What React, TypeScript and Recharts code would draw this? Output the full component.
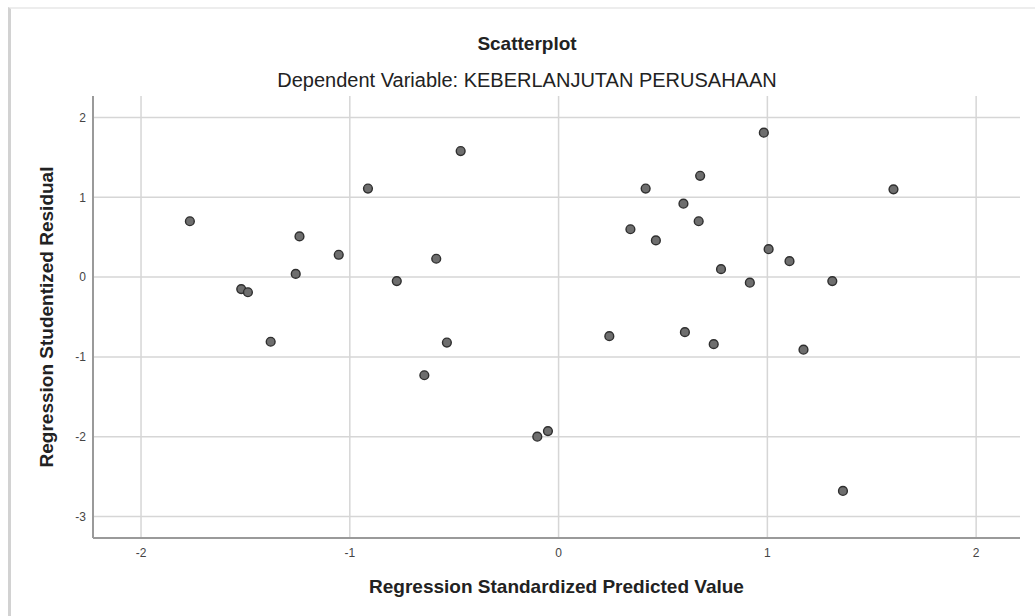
import { ScatterChart, Scatter, XAxis, YAxis, CartesianGrid } from "recharts";

// regression standardized predicted value (x) and studentized residual (y)
const predictedValues = [
  -1.766, -0.469, -0.913, -1.241, -1.053, -0.586, -1.259, -0.775, -1.52, -1.488,
  0.983, 0.678, 0.417, 1.604, 0.598, 0.671, 0.344, 0.466, 1.006, 1.106, 0.778,
  0.916, 1.311, -1.379, -0.535, -0.643, 0.243, 0.605, 0.743, 1.173, -0.102,
  -0.051, 1.362,
];
const residuals = [
  0.7, 1.58, 1.11, 0.51, 0.28, 0.23, 0.04, -0.05, -0.15, -0.19, 1.81, 1.27,
  1.11, 1.1, 0.92, 0.7, 0.6, 0.46, 0.35, 0.2, 0.1, -0.07, -0.05, -0.81, -0.82,
  -1.23, -0.74, -0.69, -0.84, -0.91, -2.0, -1.93, -2.68,
];
const xTicks = [-2, -1, 0, 1, 2];
const yTicks = [-3, -2, -1, 0, 1, 2];

const points = predictedValues.map((x, i) => ({ x, y: residuals[i] }));

const FONT = "'Liberation Sans', Arial, sans-serif";

const Dot = (props: any) => (
  <circle
    cx={props.cx}
    cy={props.cy}
    r={4.4}
    fill="#6e6e6e"
    stroke="#2f2f2f"
    strokeWidth={1.4}
  />
);

export default function App() {
  return (
    <div
      style={{
        position: "fixed",
        left: 0,
        top: 0,
        width: 1035,
        height: 616,
        overflow: "hidden",
        background: "#fff",
        fontFamily: FONT,
      }}
    >
      {/* frame edge of the pasted picture */}
      <div
        style={{
          position: "absolute",
          left: 8,
          top: 7,
          width: 1100,
          height: 700,
          borderLeft: "3px solid #d2d2d2",
          borderTop: "2px solid #ededed",
        }}
      />
      <div
        style={{
          position: "absolute",
          left: 227,
          top: 34,
          width: 600,
          textAlign: "center",
          fontSize: 19,
          lineHeight: "19px",
          fontWeight: "bold",
          color: "#222",
        }}
      >
        Scatterplot
      </div>
      <div
        style={{
          position: "absolute",
          left: 177,
          top: 70,
          width: 700,
          textAlign: "center",
          fontSize: 20,
          lineHeight: "20px",
          color: "#222",
        }}
      >
        Dependent Variable: KEBERLANJUTAN PERUSAHAAN
      </div>
      <div style={{ position: "absolute", left: 0, top: 0 }}>
        <ScatterChart
          width={1035}
          height={616}
          margin={{ top: 96, right: 15, bottom: 0, left: 0 }}
        >
          {/* grid only at the ticks, no frame on top/right */}
          <CartesianGrid stroke="#d6d6d6" strokeWidth={1.5} syncWithTicks />
          <XAxis
            type="number"
            dataKey="x"
            domain={[-2.23, 2.21]}
            ticks={xTicks}
            height={78}
            tickLine={false}
            tickSize={0}
            tickMargin={10}
            axisLine={{ stroke: "#9a9a9a", strokeWidth: 2 }}
            tick={{ fill: "#444", fontSize: 12, fontFamily: FONT }}
            label={{
              value: "Regression Standardized Predicted Value",
              position: "insideBottom",
              offset: 23,
              fill: "#222",
              fontSize: 19,
              fontWeight: "bold",
              fontFamily: FONT,
            }}
          />
          <YAxis
            type="number"
            dataKey="y"
            domain={[-3.27, 2.27]}
            ticks={yTicks}
            width={93}
            tickLine={false}
            tickSize={0}
            tickMargin={7}
            axisLine={{ stroke: "#9a9a9a", strokeWidth: 2 }}
            tick={{ fill: "#444", fontSize: 12, fontFamily: FONT }}
            label={{
              value: "Regression Studentized Residual",
              position: "center",
              angle: -90,
              fill: "#222",
              fontSize: 19,
              fontWeight: "bold",
              fontFamily: FONT,
            }}
          />
          <Scatter data={points} shape={Dot} isAnimationActive={false} />
        </ScatterChart>
      </div>
    </div>
  );
}
